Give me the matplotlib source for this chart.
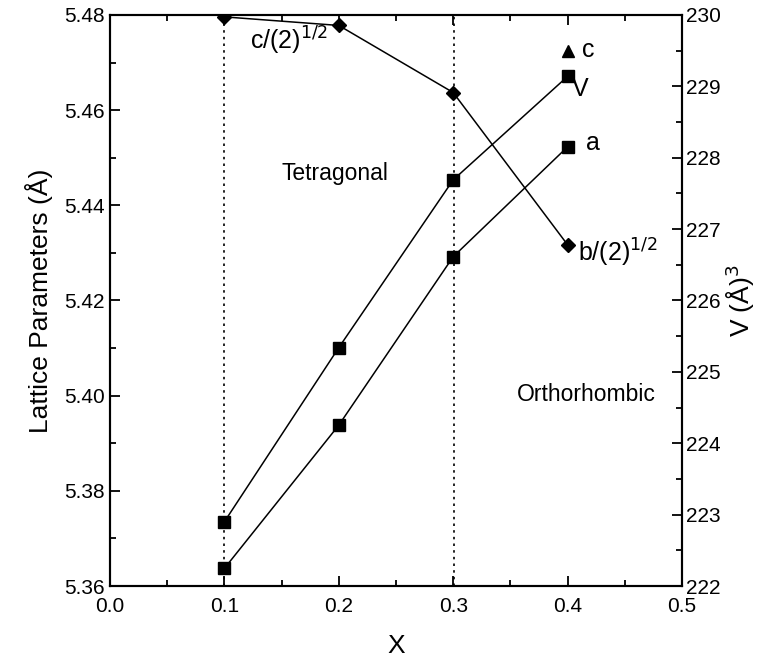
import matplotlib
matplotlib.use("Agg")
import matplotlib.pyplot as plt
from matplotlib.ticker import MultipleLocator

plt.rcParams['font.family'] = ['Liberation Sans', 'DejaVu Sans']

# lattice parameters (left axis)
x_pts = [0.1, 0.2, 0.3, 0.4]
a_vals = [5.3637, 5.3938, 5.4292, 5.4523]
# c/sqrt2 for x = 0.1..0.3, b/sqrt2 at x = 0.4
cb_vals = [5.4796, 5.4778, 5.4637, 5.4317]
c_x = [0.4]
c_vals = [5.4725]
# cell volume (right axis)
v_vals = [222.90, 225.34, 227.69, 229.14]
# phase boundaries
bounds = [0.1, 0.301]

fig = plt.figure(figsize=(7.6, 6.6), dpi=100)
ax = fig.add_axes([0.1447, 0.1121, 0.7527, 0.8652])
ax2 = ax.twinx()

for b in bounds:
    ax.axvline(b, color='black', ls=(0, (1.5, 2.5)), lw=1.2, zorder=1)

ax.plot(x_pts, a_vals, 's-', color='black', lw=1.1, ms=9, clip_on=False, zorder=3)
ax.plot(x_pts, cb_vals, 'D-', color='black', lw=1.1, ms=7.5, zorder=3)
ax.plot(c_x, c_vals, '^', color='black', ms=9, clip_on=False, zorder=3)
ax2.plot(x_pts, v_vals, 's-', color='black', lw=1.1, ms=9, clip_on=False, zorder=3)

ax.set_xlim(0.0, 0.5)
ax.set_ylim(5.36, 5.48)
ax2.set_ylim(222, 230)

ax.xaxis.set_major_locator(MultipleLocator(0.1))
ax.xaxis.set_minor_locator(MultipleLocator(0.05))
ax.yaxis.set_major_locator(MultipleLocator(0.02))
ax.yaxis.set_minor_locator(MultipleLocator(0.01))
ax2.yaxis.set_major_locator(MultipleLocator(1))
ax2.yaxis.set_minor_locator(MultipleLocator(0.5))
ax.xaxis.set_major_formatter(lambda v, p: f"{v:.1f}")
ax.yaxis.set_major_formatter(lambda v, p: f"{v:.2f}")
ax2.yaxis.set_major_formatter(lambda v, p: f"{v:.0f}")

ax.tick_params(axis='both', which='both', direction='in', top=True, right=False,
               labelsize=15, width=1.3)
ax.tick_params(which='major', length=7)
ax.tick_params(which='minor', length=4)
ax2.tick_params(axis='y', which='both', direction='in', labelsize=15, width=1.3)
ax2.tick_params(which='major', length=7)
ax2.tick_params(which='minor', length=4)
ax.tick_params(axis='x', pad=8)
ax.tick_params(axis='y', pad=4)
ax2.tick_params(axis='y', pad=3)

for sp in ax.spines.values():
    sp.set_linewidth(1.5)
for sp in ax2.spines.values():
    sp.set_linewidth(1.5)

ax.set_xlabel('X', fontsize=19, labelpad=13)
ax.set_ylabel('Lattice Parameters (Å)', fontsize=19, labelpad=8)
ax2.set_ylabel('V (Å)$^3$', fontsize=19, labelpad=2)

ax.text(0.122, 5.4745, 'c/(2)$^{1/2}$', fontsize=18, ha='left', va='center')
ax.text(0.150, 5.4467, 'Tetragonal', fontsize=16.5, ha='left', va='center')
ax.text(0.356, 5.4003, 'Orthorhombic', fontsize=16.5, ha='left', va='center')
ax.text(0.413, 5.4727, 'c', fontsize=18, ha='left', va='center')
ax.text(0.404, 5.4645, 'V', fontsize=18, ha='left', va='center')
ax.text(0.416, 5.4530, 'a', fontsize=18, ha='left', va='center')
ax.text(0.409, 5.4300, 'b/(2)$^{1/2}$', fontsize=18, ha='left', va='center')

fig.savefig('out.png', dpi=100)
